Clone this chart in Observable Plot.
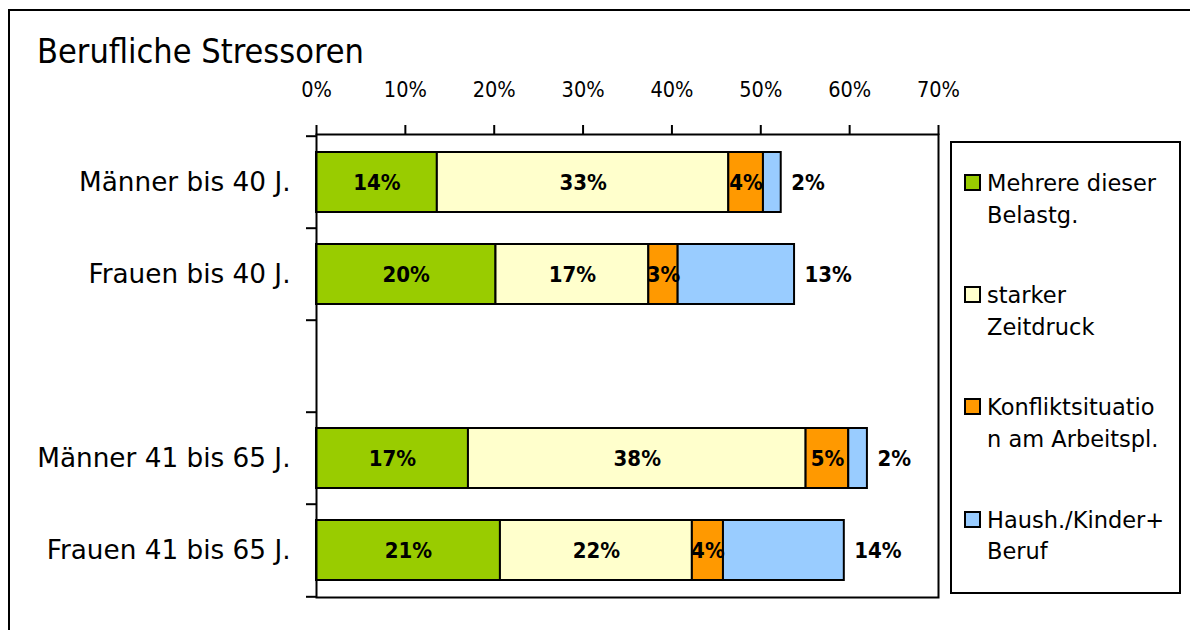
<!DOCTYPE html>
<html><head><meta charset="utf-8">
<script src="https://cdn.jsdelivr.net/npm/d3@7"></script>
<script src="https://cdn.jsdelivr.net/npm/@observablehq/plot@0.6"></script>
<style>
html,body{margin:0;padding:0;overflow:hidden;background:#fff}
#wrap{position:relative;width:1190px;height:630px;overflow:hidden}
#border{position:absolute;left:8px;top:9px;width:1300px;height:800px;border-top:2px solid #000;border-left:2px solid #000}
#chart{position:absolute;left:0;top:0}
#title{position:absolute;left:37px;top:31px;font-family:"DejaVu Sans Condensed","DejaVu Sans",sans-serif;font-stretch:condensed;font-size:34px;line-height:normal;white-space:nowrap;color:#000}
#legend{position:absolute;left:950px;top:141px;width:231px;height:453px;border:2px solid #000;box-sizing:border-box;background:#fff}
.item{position:absolute;left:0;width:100%}
.sw{position:absolute;left:12px;top:6px;width:17px;height:17px;border:2px solid #000;box-sizing:border-box}
.lt{position:absolute;left:35px;top:0;font-family:"DejaVu Sans",sans-serif;font-size:22.5px;line-height:31.6px;white-space:pre;color:#000}
</style></head>
<body>
<div id="wrap">
  <div id="border"></div>
  <div id="chart"></div>
  <div id="title">Berufliche Stressoren</div>
  <div id="legend"></div>
</div>
<script>
const groups = ["Männer bis 40 J.", "Frauen bis 40 J.", "Männer 41 bis 65 J.", "Frauen 41 bis 65 J."];
const yDomain = [groups[0], groups[1], "", groups[2], groups[3]];
const series = ["Mehrere dieser Belastg.", "starker Zeitdruck", "Konfliktsituation am Arbeitspl.", "Haush./Kinder+ Beruf"];
const legendLines = ["Mehrere dieser\nBelastg.", "starker\nZeitdruck", "Konfliktsituatio\nn am Arbeitspl.", "Haush./Kinder+\nBeruf"];
const colors = ["#99cc00", "#ffffcc", "#ff9900", "#99ccff"];
const mehrere   = [13.6, 20.2, 17.1, 20.7];
const zeitdruck = [32.8, 17.2, 38.0, 21.6];
const konflikt  = [3.9, 3.3, 4.8, 3.5];
const haushalt  = [2.0, 13.1, 2.1, 13.6];
const xTicks = [0, 10, 20, 30, 40, 50, 60, 70];

const seriesValues = [mehrere, zeitdruck, konflikt, haushalt];
const data = groups.flatMap((g, i) => series.map((s, j) => ({group: g, series: s, value: seriesValues[j][i]})));
const outside = series[3];
const fmt = v => Math.round(v) + "%";

const W = 1190, H = 630, mT = 134, mB = 33, mL = 316, mR = 252;
const bw = (H - mT - mB) / yDomain.length;
const cond = "DejaVu Sans Condensed, DejaVu Sans, sans-serif";

const chart = Plot.plot({
  width: W, height: H,
  marginTop: mT, marginBottom: mB, marginLeft: mL, marginRight: mR,
  style: {background: "transparent", overflow: "visible", color: "#000"},
  x: {domain: [0, 70]},
  y: {domain: yDomain, padding: 0},
  color: {domain: series, range: colors},
  marks: [
    Plot.barX(data, Plot.stackX({x: "value", y: "group", fill: "series", stroke: "#000", strokeWidth: 2, insetTop: 16, insetBottom: 16})),
    Plot.text(data, Plot.stackX({x: "value", y: "group", text: d => d.series !== outside ? fmt(d.value) : null,
      fontFamily: cond, fontWeight: "bold", fontSize: 22, fill: "#000"})),
    Plot.text(data, Plot.stackX2({x: "value", y: "group", text: d => d.series === outside ? fmt(d.value) : null,
      textAnchor: "start", dx: 10, fontFamily: cond, fontWeight: "bold", fontSize: 22, fill: "#000"})),
    Plot.frame({stroke: "#000", strokeWidth: 2}),
    Plot.axisX({anchor: "top", ticks: xTicks, tickFormat: d => d + "%", tickSize: 10, tickPadding: 28, strokeWidth: 2,
      fontSize: 21.5, fontFamily: cond, label: null, fill: "#000"}),
    Plot.axisY({tickSize: 0, tickPadding: 26, fontSize: 26.3, fontFamily: "DejaVu Sans, sans-serif", label: null, fill: "#000"}),
    Plot.axisY({tickSize: 10, tickFormat: () => "", dy: -bw / 2, strokeWidth: 2, label: null}),
    Plot.axisY({ticks: [yDomain[yDomain.length - 1]], tickSize: 10, tickFormat: () => "", dy: bw / 2, strokeWidth: 2, label: null})
  ]
});
document.getElementById("chart").appendChild(chart);

const legend = document.getElementById("legend");
series.forEach((s, i) => {
  const item = document.createElement("div");
  item.className = "item";
  item.style.top = (25 + i * 112.2) + "px";
  const sw = document.createElement("div");
  sw.className = "sw";
  sw.style.background = colors[i];
  const lt = document.createElement("div");
  lt.className = "lt";
  lt.textContent = legendLines[i];
  item.appendChild(sw);
  item.appendChild(lt);
  legend.appendChild(item);
});
</script>
</body></html>
